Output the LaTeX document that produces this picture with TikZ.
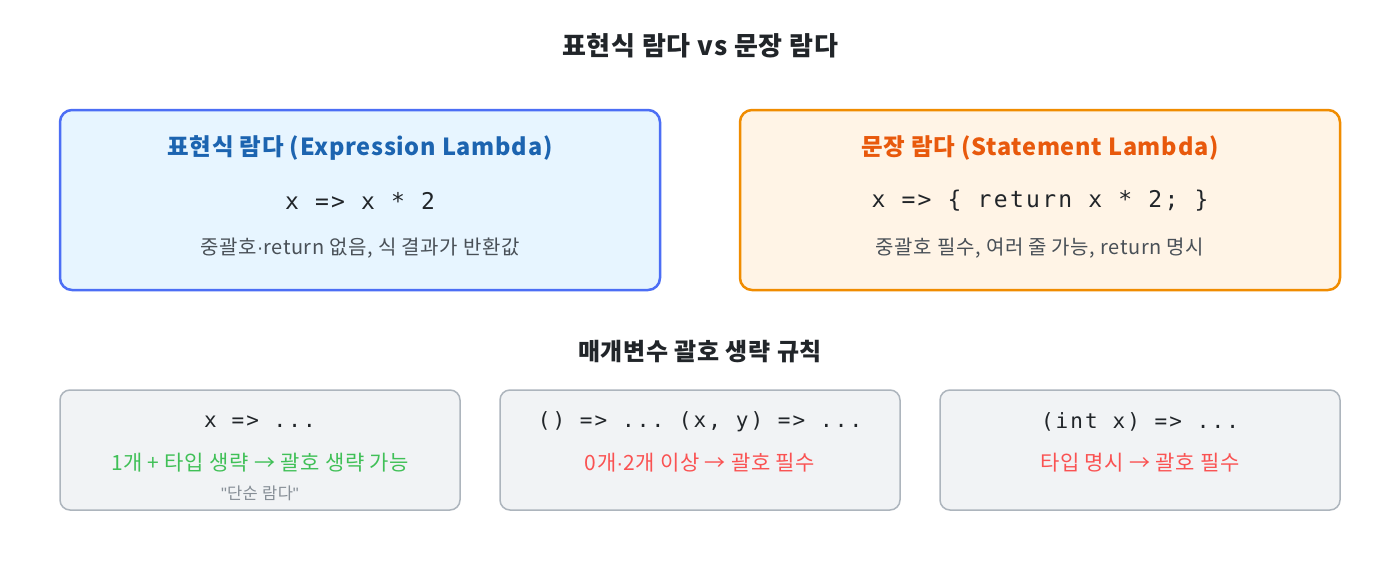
\documentclass[tikz,border=0pt]{standalone}
\usepackage{fontspec}
\setmainfont{Noto Sans CJK KR}[LetterSpace=3]
\setmonofont{DejaVu Sans Mono}[LetterSpace=10]
\newfontfamily\dotfont{Liberation Sans}
\newcommand\mdot{{\dotfont ·}}
\definecolor{lamblue}{HTML}{4C6EF5}
\definecolor{lambluefill}{HTML}{E7F5FF}
\definecolor{lambluetext}{HTML}{1C64B0}
\definecolor{lamorange}{HTML}{F08C00}
\definecolor{lamorangefill}{HTML}{FFF4E6}
\definecolor{lamorangetext}{HTML}{E8590C}
\definecolor{rulefill}{HTML}{F1F3F5}
\definecolor{ruleline}{HTML}{ADB5BD}
\definecolor{descgray}{HTML}{495057}
\definecolor{notegray}{HTML}{868E96}
\definecolor{okgreen}{HTML}{40C057}
\definecolor{badred}{HTML}{FA5252}
\definecolor{titlegray}{HTML}{212529}
\begin{document}
\begin{tikzpicture}[x=1pt,y=-1pt,line join=round,
  heading/.style={font=\fontsize{26}{30}\selectfont\bfseries,text=titlegray},
  boxtitle/.style={font=\fontsize{23.5}{27}\selectfont\bfseries},
  bigcode/.style={font=\fontsize{23}{27}\ttfamily,text=titlegray},
  smallcode/.style={font=\fontsize{21}{25}\ttfamily,text=titlegray},
  desc/.style={font=\fontsize{20}{24}\selectfont,text=descgray},
  rule/.style={font=\fontsize{21}{25}\selectfont},
  note/.style={font=\fontsize{16.5}{20}\selectfont,text=notegray}]
  \useasboundingbox (0,0) rectangle (1400,560);
  \fill[white] (0,0) rectangle (1400,560);
  % titles
  \node[heading] (title) at (700,46) {표현식 람다 vs 문장 람다};
  \node[heading,font=\fontsize{24}{28}\selectfont\bfseries] (subtitle) at (700,352) {매개변수 괄호 생략 규칙};
  % upper boxes
  \draw[line width=2.5pt,draw=lamblue,fill=lambluefill,rounded corners=12pt]
    (60,110) rectangle (660,290);
  \draw[line width=2.5pt,draw=lamorange,fill=lamorangefill,rounded corners=12pt]
    (740,110) rectangle (1340,290);
  \node[boxtitle,text=lambluetext] (exprtitle) at (360,148) {표현식 람다 (Expression Lambda)};
  \node[bigcode] (exprcode) at (360,201) {x => x * 2};
  \node[desc] (exprdesc) at (360,248) {중괄호\mdot return 없음, 식 결과가 반환값};
  \node[boxtitle,text=lamorangetext] (stmttitle) at (1040,148) {문장 람다 (Statement Lambda)};
  \node[bigcode] (stmtcode) at (1040,201) {x => \{ return x * 2; \}};
  \node[desc] (stmtdesc) at (1040,248) {중괄호 필수, 여러 줄 가능, return 명시};
  % lower boxes
  \foreach \xl in {60,500,940}
    \draw[line width=1.5pt,draw=ruleline,fill=rulefill,rounded corners=10pt]
      (\xl,390) rectangle (\xl+400,510);
  \node[smallcode] (onecode) at (260,422) {x => ...};
  \node[rule,text=okgreen] (onerule) at (260,463) {1개 + 타입 생략 → 괄호 생략 가능};
  \node[note] (onenote) at (260,493) {{\dotfont"}단순 람다{\dotfont"}};
  \node[smallcode] (manycode) at (700,422) {() => ... (x, y) => ...};
  \node[rule,text=badred] (manyrule) at (700,463) {0개\mdot 2개 이상 → 괄호 필수};
  \node[smallcode] (typedcode) at (1140,422) {(int x) => ...};
  \node[rule,text=badred] (typedrule) at (1140,463) {타입 명시 → 괄호 필수};
\end{tikzpicture}
\end{document}
